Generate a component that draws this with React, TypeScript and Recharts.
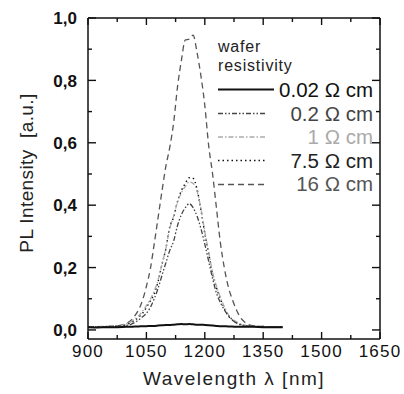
import React from 'react';
import { LineChart, Line, XAxis, YAxis, Customized } from 'recharts';

const wavelengths = [900, 925, 950, 975, 1000, 1010, 1020, 1030, 1040, 1050, 1060, 1070, 1080, 1090, 1100, 1110, 1120, 1130, 1140, 1150, 1160, 1170, 1180, 1190, 1200, 1210, 1220, 1230, 1240, 1250, 1260, 1270, 1280, 1290, 1300, 1325, 1350, 1375, 1400];

const rho002 = [0.009, 0.008, 0.009, 0.009, 0.010, 0.010, 0.011, 0.011, 0.012, 0.012, 0.013, 0.013, 0.014, 0.015, 0.016, 0.016, 0.017, 0.018, 0.019, 0.018, 0.019, 0.018, 0.017, 0.017, 0.016, 0.015, 0.014, 0.013, 0.012, 0.012, 0.011, 0.011, 0.010, 0.010, 0.010, 0.010, 0.009, 0.009, 0.009];
const rho02 = [0.010, 0.010, 0.011, 0.012, 0.015, 0.018, 0.024, 0.032, 0.042, 0.053, 0.072, 0.100, 0.133, 0.175, 0.215, 0.255, 0.285, 0.335, 0.370, 0.392, 0.405, 0.392, 0.365, 0.325, 0.275, 0.220, 0.165, 0.118, 0.088, 0.065, 0.047, 0.033, 0.023, 0.017, 0.014, 0.011, 0.010, 0.010, 0.010];
const rho1 = [0.010, 0.011, 0.012, 0.014, 0.020, 0.026, 0.035, 0.046, 0.060, 0.078, 0.098, 0.125, 0.160, 0.210, 0.262, 0.325, 0.365, 0.410, 0.440, 0.460, 0.474, 0.470, 0.445, 0.390, 0.315, 0.250, 0.185, 0.140, 0.105, 0.075, 0.050, 0.036, 0.027, 0.020, 0.016, 0.012, 0.011, 0.010, 0.010];
const rho75 = [0.010, 0.010, 0.011, 0.012, 0.018, 0.023, 0.031, 0.041, 0.053, 0.072, 0.093, 0.115, 0.155, 0.210, 0.260, 0.330, 0.362, 0.412, 0.447, 0.470, 0.488, 0.486, 0.452, 0.385, 0.310, 0.245, 0.180, 0.135, 0.100, 0.070, 0.046, 0.033, 0.025, 0.019, 0.015, 0.012, 0.011, 0.010, 0.010];
const rho16 = [0.010, 0.010, 0.011, 0.013, 0.022, 0.030, 0.045, 0.065, 0.095, 0.140, 0.195, 0.275, 0.360, 0.445, 0.525, 0.585, 0.665, 0.780, 0.865, 0.930, 0.932, 0.945, 0.890, 0.815, 0.720, 0.590, 0.500, 0.390, 0.280, 0.200, 0.140, 0.100, 0.068, 0.043, 0.028, 0.013, 0.011, 0.010, 0.010];

const xTicks = [900, 975, 1050, 1125, 1200, 1275, 1350, 1425, 1500, 1575, 1650];
const yTicks = [0, 0.1, 0.2, 0.3, 0.4, 0.5, 0.6, 0.7, 0.8, 0.9, 1.0];
const legendTitle = ['wafer', 'resistivity'];
const legendLabels = ['0.02 \u03a9 cm', '0.2 \u03a9 cm', '1 \u03a9 cm', '7.5 \u03a9 cm', '16 \u03a9 cm'];
const seriesKeys = ['r002', 'r02', 'r1', 'r75', 'r16'];
const seriesValues = [rho002, rho02, rho1, rho75, rho16];

const styles = [
  { stroke: '#111', dash: undefined as string | undefined, width: 2, text: '#111' },
  { stroke: '#444', dash: '5 2 1.5 2 1.5 2', width: 1.3, text: '#444' },
  { stroke: '#aaa', dash: '5 2 1.5 2', width: 1.3, text: '#aaa' },
  { stroke: '#111', dash: '1.5 3', width: 1.4, text: '#222' },
  { stroke: '#555', dash: '6 4', width: 1.3, text: '#555' },
];

const data = wavelengths.map((l, i) => {
  const row: Record<string, number> = { lambda: l };
  seriesKeys.forEach((k, j) => { row[k] = seriesValues[j][i]; });
  return row;
});

const FONT = '"Liberation Sans", Arial, sans-serif';
const TICK = '#111';
const isMajorX = (v: number) => (v - 900) % 150 === 0;
const isMajorY = (v: number) => Math.round(v * 10) % 2 === 0;

const BottomTick = (p: any) => {
  const { x, y, payload } = p;
  const v = payload.value;
  const major = isMajorX(v);
  return (
    <g>
      <line x1={x} x2={x} y1={y} y2={y - (major ? 7 : 4)} stroke={TICK} strokeWidth={1.4} />
      {major && (
        <text x={x} y={y + 18} textAnchor="middle" fontFamily={FONT} fontSize={17} letterSpacing={1.2} fill="#111">{v}</text>
      )}
    </g>
  );
};
const TopTick = (p: any) => {
  const { x, y, payload } = p;
  const major = isMajorX(payload.value);
  return <line x1={x} x2={x} y1={y} y2={y + (major ? 7 : 4)} stroke={TICK} strokeWidth={1.4} />;
};
const LeftTick = (p: any) => {
  const { x, y, payload } = p;
  const v = payload.value;
  const major = isMajorY(v);
  return (
    <g>
      <line x1={x} x2={x + (major ? 8 : 4)} y1={y} y2={y} stroke={TICK} strokeWidth={1.4} />
      {major && (
        <text x={x - 11} y={y} dy="0.36em" textAnchor="end" fontFamily={FONT} fontWeight="bold" fontSize={17} fill="#111">{v.toFixed(1).replace('.', ',')}</text>
      )}
    </g>
  );
};
const RightTick = (p: any) => {
  const { x, y, payload } = p;
  const major = isMajorY(payload.value);
  return <line x1={x} x2={x - (major ? 8 : 4)} y1={y} y2={y} stroke={TICK} strokeWidth={1.4} />;
};

const LegendBlock = () => {
  const lineY = [89.5, 113.5, 137, 160.5, 184.5];
  const textY = [97, 120.5, 144, 167.5, 191];
  return (
    <g>
      <text x={218} y={52} fontFamily={FONT} fontSize={16} letterSpacing={0.8} fill="#222">{legendTitle[0]}</text>
      <text x={218} y={71} fontFamily={FONT} fontSize={16} letterSpacing={0.8} fill="#222">{legendTitle[1]}</text>
      {legendLabels.map((lab, i) => (
        <g key={lab}>
          <line x1={218} x2={i === 0 ? 274 : 266} y1={lineY[i]} y2={lineY[i]} stroke={styles[i].stroke} strokeWidth={styles[i].width} strokeDasharray={styles[i].dash} />
          <text x={373} y={textY[i]} textAnchor="end" fontFamily={FONT} fontSize={20.5} fill={styles[i].text}>{lab}</text>
        </g>
      ))}
    </g>
  );
};

const AxisTitles = () => (
  <g>
    <text x={234} y={385} textAnchor="middle" fontFamily={FONT} fontSize={19} letterSpacing={1.5} fill="#222">Wavelength {'\u03bb'} [nm]</text>
    <text x={33} y={173} transform="rotate(-90 33 173)" textAnchor="middle" fontFamily={FONT} fontSize={19} letterSpacing={0.4} fill="#222" xmlSpace="preserve">PL Intensity  [a.u.]</text>
  </g>
);

export default function App() {
  return (
    <div style={{ position: 'absolute', left: 0, top: 0, width: 404, height: 394, background: '#fff' }}>
      <LineChart width={404} height={394} data={data} margin={{ top: 17, right: 23, bottom: 0, left: 0 }}>
        <XAxis xAxisId="b" dataKey="lambda" type="number" domain={[900, 1650]} ticks={xTicks} interval={0} allowDataOverflow
          orientation="bottom" height={55} tickSize={0} tickMargin={0} tickLine={false} tick={<BottomTick />}
          axisLine={{ stroke: '#111', strokeWidth: 1.5 }} />
        <XAxis xAxisId="t" dataKey="lambda" type="number" domain={[900, 1650]} ticks={xTicks} interval={0} allowDataOverflow
          orientation="top" height={1} tickSize={0} tickMargin={0} tickLine={false} tick={<TopTick />}
          axisLine={{ stroke: '#111', strokeWidth: 1.5 }} />
        <YAxis yAxisId="l" type="number" domain={[-0.029, 1.0]} ticks={yTicks} interval={0} allowDataOverflow
          orientation="left" width={88} tickSize={0} tickMargin={0} tickLine={false} tick={<LeftTick />}
          axisLine={{ stroke: '#111', strokeWidth: 1.5 }} />
        <YAxis yAxisId="r" type="number" domain={[-0.029, 1.0]} ticks={yTicks} interval={0} allowDataOverflow
          orientation="right" width={1} tickSize={0} tickMargin={0} tickLine={false} tick={<RightTick />}
          axisLine={{ stroke: '#111', strokeWidth: 1.5 }} />
        {seriesKeys.map((k, i) => (
          <Line key={k} xAxisId={i === 0 ? 't' : 'b'} yAxisId={i === 0 ? 'r' : 'l'} dataKey={k} type="monotone" stroke={styles[i].stroke}
            strokeWidth={styles[i].width} strokeDasharray={styles[i].dash} dot={false} activeDot={false}
            isAnimationActive={false} />
        )).reverse()}
        <Customized component={LegendBlock} />
        <Customized component={AxisTitles} />
      </LineChart>
    </div>
  );
}
